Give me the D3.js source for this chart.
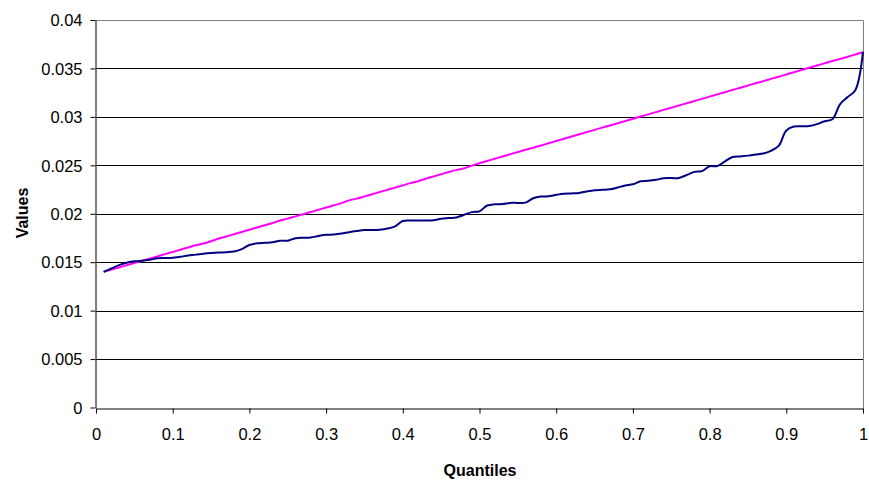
<!DOCTYPE html>
<html>
<head>
<meta charset="utf-8">
<script src="https://cdn.jsdelivr.net/npm/d3@7/dist/d3.min.js"></script>
<style>
  body { margin: 0; background: #fff; }
  svg { display: block; }
  text { font-family: "Liberation Sans", Arial, sans-serif; }
</style>
</head>
<body>
<svg id="chart" width="869" height="483"></svg>
<script>
// Quantile positions 0.01 .. 1.00
const quantiles = [
  0.01,0.02,0.03,0.04,0.05,0.06,0.07,0.08,0.09,0.10,
  0.11,0.12,0.13,0.14,0.15,0.16,0.17,0.18,0.19,0.20,
  0.21,0.22,0.23,0.24,0.25,0.26,0.27,0.28,0.29,0.30,
  0.31,0.32,0.33,0.34,0.35,0.36,0.37,0.38,0.39,0.40,
  0.41,0.42,0.43,0.44,0.45,0.46,0.47,0.48,0.49,0.50,
  0.51,0.52,0.53,0.54,0.55,0.56,0.57,0.58,0.59,0.60,
  0.61,0.62,0.63,0.64,0.65,0.66,0.67,0.68,0.69,0.70,
  0.71,0.72,0.73,0.74,0.75,0.76,0.77,0.78,0.79,0.80,
  0.81,0.82,0.83,0.84,0.85,0.86,0.87,0.88,0.89,0.90,
  0.91,0.92,0.93,0.94,0.95,0.96,0.97,0.98,0.99,1.00
];

// Navy series (empirical)
const navyValues = [
  0.01400,0.01435,0.01470,0.01495,0.01510,0.01515,0.01525,0.01540,0.01543,0.01547,
  0.01555,0.01570,0.01578,0.01588,0.01595,0.01600,0.01603,0.01610,0.01635,0.01677,
  0.01695,0.01700,0.01705,0.01722,0.01722,0.01748,0.01752,0.01755,0.01770,0.01782,
  0.01786,0.01795,0.01810,0.01822,0.01832,0.01832,0.01836,0.01848,0.01870,0.01925,
  0.01930,0.01930,0.01930,0.01932,0.01948,0.01955,0.01962,0.01990,0.02017,0.02025,
  0.02085,0.02098,0.02100,0.02112,0.02112,0.02115,0.02160,0.02178,0.02180,0.02195,
  0.02207,0.02210,0.02215,0.02230,0.02242,0.02247,0.02252,0.02270,0.02292,0.02304,
  0.02335,0.02340,0.02350,0.02366,0.02368,0.02370,0.02400,0.02432,0.02440,0.02490,
  0.02492,0.02540,0.02585,0.02592,0.02600,0.02612,0.02622,0.02650,0.02700,0.02860,
  0.02900,0.02904,0.02906,0.02925,0.02955,0.02975,0.03130,0.03205,0.03275,0.03670
];

// Magenta series (reference)
const magentaValues = [
  0.01400,0.01423,0.01446,0.01469,0.01492,0.01515,0.01537,0.01560,0.01583,0.01606,
  0.01629,0.01652,0.01675,0.01692,0.01716,0.01744,0.01766,0.01789,0.01812,0.01835,
  0.01858,0.01881,0.01904,0.01930,0.01950,0.01973,0.01995,0.02018,0.02041,0.02064,
  0.02087,0.02110,0.02138,0.02156,0.02179,0.02202,0.02224,0.02247,0.02270,0.02293,
  0.02316,0.02336,0.02362,0.02385,0.02408,0.02431,0.02453,0.02470,0.02497,0.02522,
  0.02545,0.02568,0.02591,0.02614,0.02637,0.02660,0.02682,0.02705,0.02728,0.02751,
  0.02774,0.02797,0.02820,0.02843,0.02866,0.02889,0.02911,0.02934,0.02957,0.02980,
  0.03003,0.03026,0.03049,0.03072,0.03095,0.03118,0.03140,0.03163,0.03186,0.03209,
  0.03232,0.03255,0.03278,0.03301,0.03324,0.03347,0.03369,0.03392,0.03415,0.03438,
  0.03461,0.03484,0.03507,0.03530,0.03553,0.03576,0.03598,0.03621,0.03644,0.03667
];

const xTicks = [0,0.1,0.2,0.3,0.4,0.5,0.6,0.7,0.8,0.9,1];
const xTickLabels = ["0","0.1","0.2","0.3","0.4","0.5","0.6","0.7","0.8","0.9","1"];
const yTicks = [0,0.005,0.01,0.015,0.02,0.025,0.03,0.035,0.04];
const yTickLabels = ["0","0.005","0.01","0.015","0.02","0.025","0.03","0.035","0.04"];
const xTitle = "Quantiles";
const yTitle = "Values";

(function () {
const svg = d3.select("#chart");
const pLeft = 96, pRight = 863, pTop = 20, pBottom = 407.5;

const x = d3.scaleLinear().domain([0, 1]).range([pLeft, pRight]);
const y = d3.scaleLinear().domain([0, 0.04]).range([pBottom, pTop]);

// gridlines
svg.append("g").selectAll("line")
  .data(yTicks.filter(t => t > 0 && t < 0.04))
  .join("line")
  .attr("x1", pLeft).attr("x2", pRight)
  .attr("y1", d => Math.round(y(d)) + 0.5).attr("y2", d => Math.round(y(d)) + 0.5)
  .attr("stroke", "#000").attr("stroke-width", 1);

// plot border top/right (gray)
svg.append("path")
  .attr("d", `M${pLeft},${Math.round(y(0.04)) + 0.5}H${pRight + 0.5}V${Math.round(pBottom) + 0.5}`)
  .attr("fill", "none").attr("stroke", "#808080").attr("stroke-width", 1);

// axes
const xAxis = d3.axisBottom(x).tickValues(xTicks)
  .tickFormat((d, i) => xTickLabels[i]).tickSize(5).tickSizeOuter(0).tickPadding(15);
const yAxis = d3.axisLeft(y).tickValues(yTicks)
  .tickFormat((d, i) => yTickLabels[i]).tickSize(5).tickSizeOuter(0).tickPadding(8);

const gx = svg.append("g").attr("transform", `translate(0,${Math.round(pBottom) + 0.5})`).call(xAxis);
const gy = svg.append("g").attr("transform", `translate(${pLeft - 0.5},0)`).call(yAxis);
[gx, gy].forEach(g => {
  g.selectAll("path.domain").attr("stroke", "#000");
  g.selectAll(".tick line").attr("stroke", "#000");
  g.selectAll("text").attr("fill", "#000").style("font-size", "16.5px")
    .style("font-family", "'Liberation Sans', Arial, sans-serif");
});
gy.selectAll(".tick text").attr("dy", "0.35em");

const line = (vals) => d3.line()
  .x((d, i) => x(quantiles[i]))
  .y(d => y(d))
  .curve(d3.curveCatmullRom.alpha(0.5))(vals);

svg.append("path").attr("d", line(magentaValues))
  .attr("fill", "none").attr("stroke", "#FF00FF").attr("stroke-width", 2);
svg.append("path").attr("d", line(navyValues))
  .attr("fill", "none").attr("stroke", "#000080").attr("stroke-width", 2);

// titles
svg.append("text").attr("x", 480).attr("y", 476)
  .attr("text-anchor", "middle").style("font-weight", "bold").style("font-size", "16px")
  .text(xTitle);
svg.append("text").attr("transform", "translate(28,213) rotate(-90)")
  .attr("text-anchor", "middle").style("font-weight", "bold").style("font-size", "16px")
  .text(yTitle);
})();
</script>
</body>
</html>
